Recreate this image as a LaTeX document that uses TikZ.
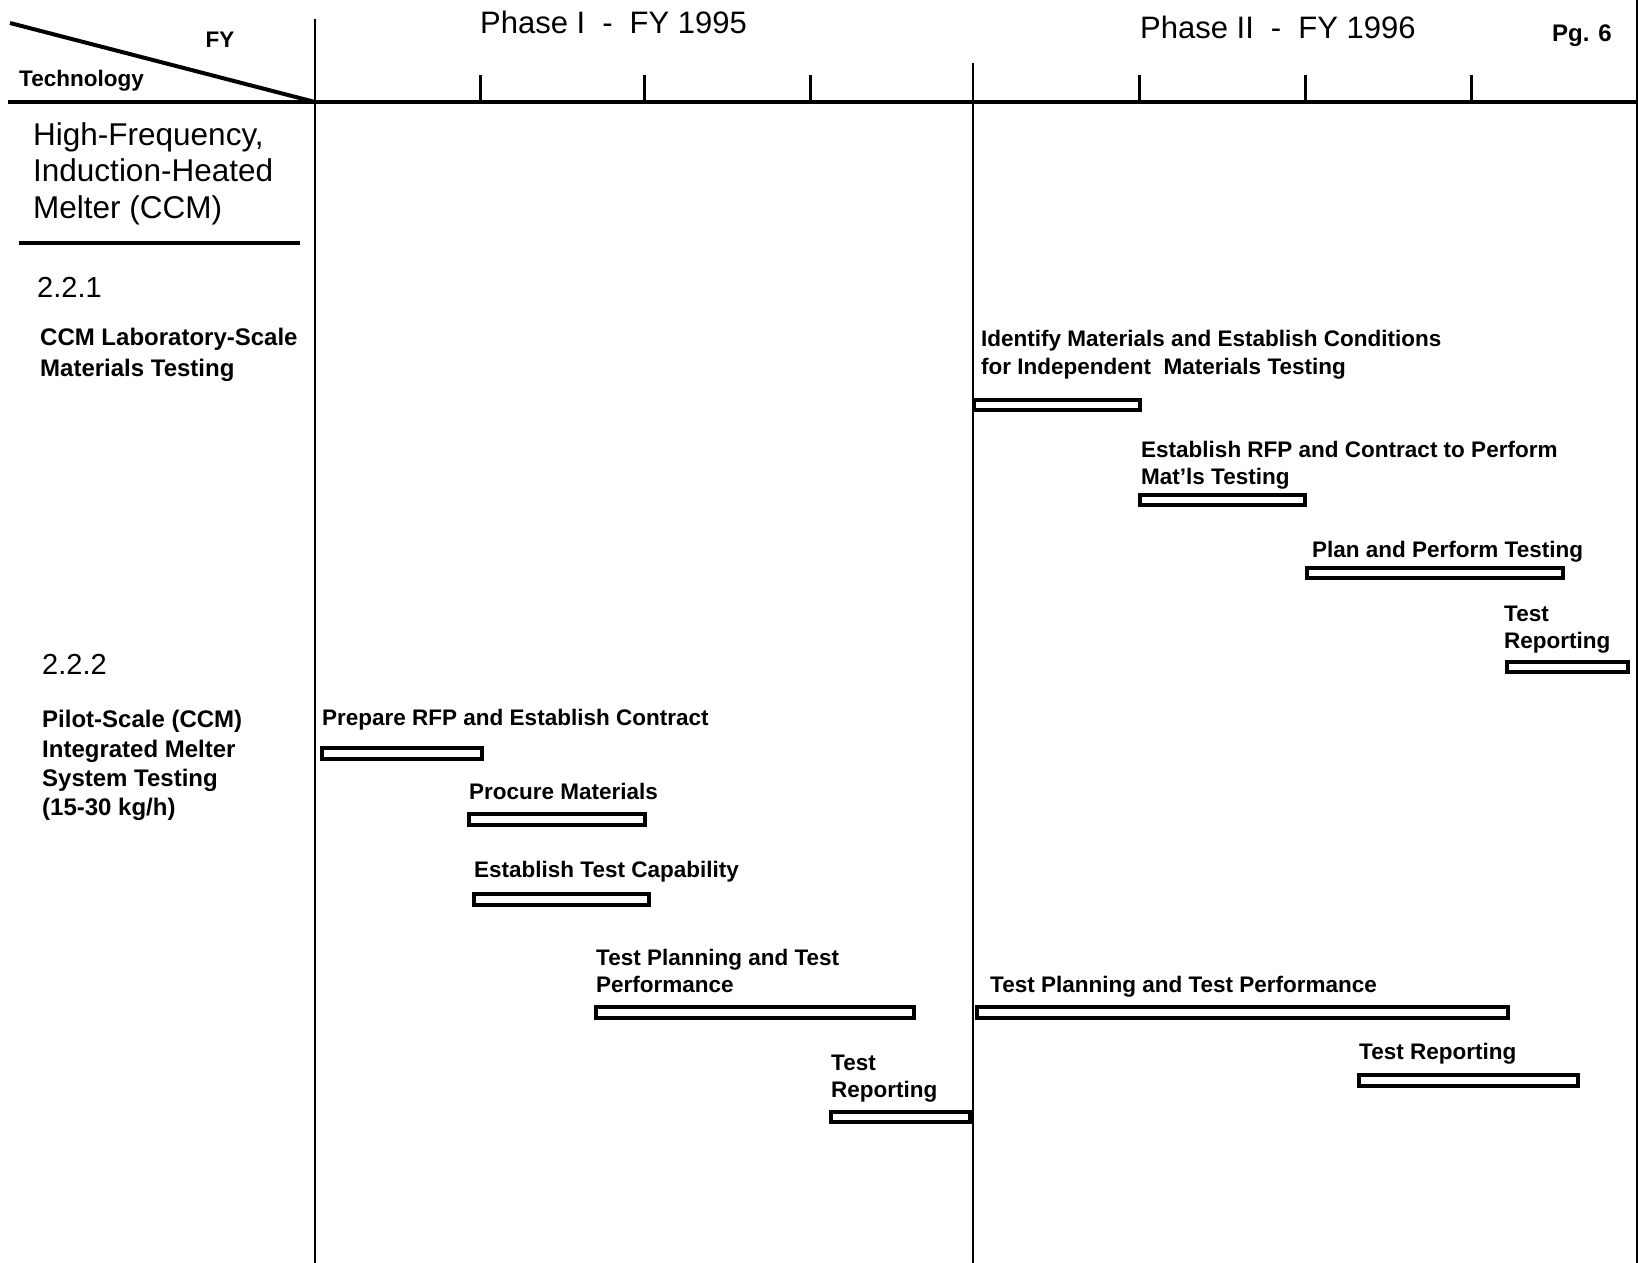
\documentclass[tikz,border=0pt]{standalone}
\usepackage{fontspec}
\setmainfont{Liberation Sans}

% Two-year Gantt schedule for the CCM melter work, one unit = one pixel
\newcommand\ganttbar[5]{% name, left x, right x, top y, bottom y
  \node[barbox, minimum width={(#3-#2)*1pt}, minimum height={(#5-#4)*1pt}] (#1) at ({(#2+#3)/2},{(#4+#5)/2}) {};}

\begin{document}
\begin{tikzpicture}[x=1pt, y=-1pt,
  rule/.style={line width=3.2pt, black},
  thinrule/.style={line width=2.9pt, black},
  barbox/.style={draw, line width=3.2pt, rectangle, inner sep=0pt, outer sep=0pt},
  lab/.style={inner sep=0pt, anchor=base west, font=\bfseries\fontsize{22.5}{26}\selectfont},
  side/.style={inner sep=0pt, anchor=base west, font=\bfseries\fontsize{24}{28}\selectfont},
  num/.style={inner sep=0pt, anchor=base west, font=\fontsize{29}{32}\selectfont},
  title/.style={inner sep=0pt, anchor=base west, font=\fontsize{31.5}{34}\selectfont},
  phase/.style={inner sep=0pt, anchor=base west, font=\fontsize{31}{34}\selectfont}]

\useasboundingbox[fill=white] (0,0) rectangle (1638,1263);

% ---- frame: header rule, column dividers, diagonal, quarter ticks
\coordinate (hl) at (8,102);
\coordinate (hr) at (1637,102);
\coordinate (corner) at (315,102);
\coordinate (vtop) at (315,19);
\coordinate (vbot) at (315,1263);
\coordinate (ptop) at (973,63);
\coordinate (pbot) at (973,1263);
\coordinate (etop) at (1636.5,0);
\coordinate (ebot) at (1636.5,1263);
\coordinate (dstart) at (10,23);
\coordinate (ul) at (19,243);
\coordinate (ur) at (300,243);

\draw[rule] (hl) -- (hr);
\draw[thinrule] (vtop) -- (vbot);
\draw[thinrule] (ptop) -- (pbot);
\draw[line width=2pt] (etop) -- (ebot);
\draw[line width=4pt] (dstart) -- (corner);
\draw[rule] (ul) -- (ur);
\foreach \t/\x in {q1/480.5, q2/644.5, q3/810.5, q5/1139.5, q6/1305.5, q7/1471.5} {
  \coordinate (\t top) at (\x,75);
  \coordinate (\t foot) at (\x,102);
  \draw[thinrule] (\t top) -- (\t foot);
}

% ---- header texts
\node[lab, anchor=base] (fy) at (220,48) {FY};
\node[lab] (tech) at (19,86) {Technology};
\node[phase] (ph1) at (480,34) {Phase I\hspace{0.55em}-\hspace{0.55em}FY 1995};
\node[phase] (ph2) at (1140,39) {Phase II\hspace{0.55em}-\hspace{0.55em}FY 1996};
\node[side] (pg) at (1552,42) {Pg. 6};

% ---- technology column
\node[title] (hf1) at (33,145) {High-Frequency,};
\node[title] (hf2) at (33,181) {Induction-Heated};
\node[title] (hf3) at (33,218) {Melter (CCM)};

\node[num] (s221) at (37,297) {2.2.1};
\node[side] (c1a) at (40,345) {CCM Laboratory-Scale};
\node[side] (c1b) at (40,376) {Materials Testing};

\node[num] (s222) at (42,674) {2.2.2};
\node[side] (c2a) at (42,727) {Pilot-Scale (CCM)};
\node[side] (c2b) at (42,757) {Integrated Melter};
\node[side] (c2c) at (42,786) {System Testing};
\node[side] (c2d) at (42,815) {(15-30 kg/h)};

% ---- 2.2.1 activities
\node[lab] (a1a) at (981,346) {Identify Materials and Establish Conditions};
\node[lab] (a1b) at (981,374) {for Independent\ \ Materials Testing};
\ganttbar{b1}{974}{1140}{400}{410}

\node[lab] (a2a) at (1141,457) {Establish RFP and Contract to Perform};
\node[lab] (a2b) at (1141,484) {Mat'ls Testing};
\ganttbar{b2}{1140}{1305}{495}{505}

\node[lab] (a3) at (1312,557) {Plan and Perform Testing};
\ganttbar{b3}{1307}{1563}{568}{578}

\node[lab] (a4a) at (1504,621) {Test};
\node[lab] (a4b) at (1504,648) {Reporting};
\ganttbar{b4}{1507}{1628}{662}{672}

% ---- 2.2.2 activities, phase I
\node[lab] (a5) at (322,725) {Prepare RFP and Establish Contract};
\ganttbar{b5}{322}{482}{748}{759}

\node[lab] (a6) at (469,799) {Procure Materials};
\ganttbar{b6}{469}{645}{814}{825}

\node[lab] (a7) at (474,877) {Establish Test Capability};
\ganttbar{b7}{474}{649}{894}{905}

\node[lab] (a8a) at (596,965) {Test Planning and Test};
\node[lab] (a8b) at (596,992) {Performance};
\ganttbar{b8}{596}{914}{1007}{1018}

\node[lab] (a9a) at (831,1070) {Test};
\node[lab] (a9b) at (831,1097) {Reporting};
\ganttbar{b9}{831}{970}{1112}{1122}

% ---- 2.2.2 activities, phase II
\node[lab] (a10) at (990,992) {Test Planning and Test Performance};
\ganttbar{b10}{977}{1508}{1007}{1018}

\node[lab] (a11) at (1359,1059) {Test Reporting};
\ganttbar{b11}{1359}{1578}{1075}{1086}

\end{tikzpicture}
\end{document}
